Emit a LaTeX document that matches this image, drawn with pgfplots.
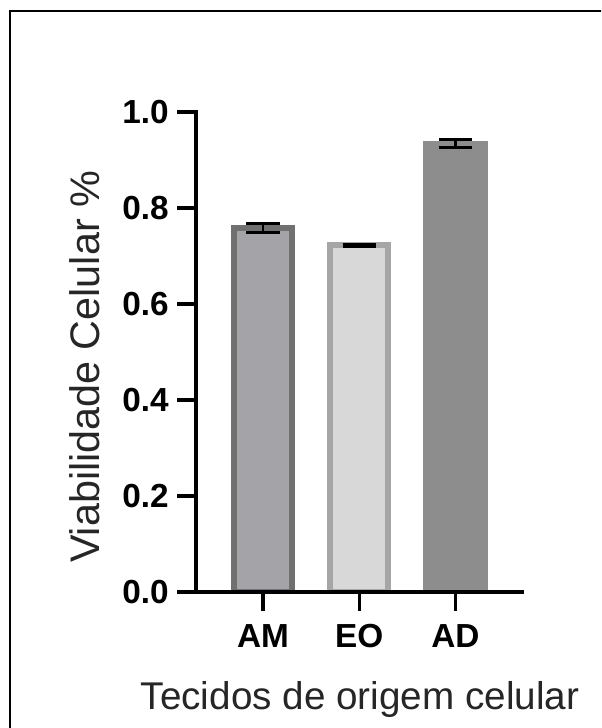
\documentclass[border=0pt]{standalone}
\usepackage{fontspec}
\setmainfont{Liberation Sans}
\usepackage{pgfplots}
\pgfplotsset{compat=1.18}
\definecolor{amfill}{RGB}{163,163,168}
\definecolor{amline}{RGB}{112,112,112}
\definecolor{eofill}{RGB}{216,216,216}
\definecolor{eoline}{RGB}{166,166,166}
\definecolor{adfill}{RGB}{141,141,141}
\begin{document}
\begin{tikzpicture}
\useasboundingbox (0,0) rectangle (450.75pt,546pt);
\clip (0,0) rectangle (450.75pt,546pt);
\draw[line width=1.6pt] (7.5pt,-10pt) -- (7.5pt,537.75pt) -- (470pt,537.75pt);
\begin{axis}[
  at={(147pt,102pt)}, anchor=south west,
  scale only axis, width=244.5pt, height=360pt,
  xmin=-0.696, xmax=2.691, ymin=0, ymax=1,
  axis lines*=left,
  axis line style={line width=2.6pt, line cap=rect},
  tick align=outside,
  major tick length=14pt,
  major tick style={line width=2.6pt, black},
  xtick={0,1,2}, xticklabels={AM,EO,AD},
  ytick={0,0.2,0.4,0.6,0.8,1.0},
  /pgf/number format/assume math mode=true,
  yticklabel style={/pgf/number format/fixed, /pgf/number format/fixed zerofill, /pgf/number format/precision=1, xshift=-3pt},
  ticklabel style={font=\fontsize{25pt}{25pt}\selectfont\bfseries},
  xticklabel style={text height=17.9pt, text depth=0pt, yshift=-6pt},
  ylabel={Viabilidade Celular \%},
  xlabel={Tecidos de origem celular},
  ylabel style={at={(axis description cs:-0.2945,0.469)}, anchor=base, font=\fontsize{31pt}{31pt}\selectfont, text=black!85},
  xlabel style={at={(axis description cs:0.503,-0.244)}, anchor=base, font=\fontsize{29pt}{29pt}\selectfont, text=black!85},
  ybar, bar width=0.603, bar shift=0pt,
  axis on top,
  error bars/y dir=both, error bars/y explicit,
  error bars/error bar style={line width=2.2pt, black},
  error bars/error mark options={black, line width=2.2pt, mark size=12.5pt, rotate=90},
]
\addplot[fill=amfill, draw=amline, line width=4.5pt] coordinates {(0,0.758) +- (0,0.009)};
\addplot[fill=eofill, draw=eoline, line width=4.5pt] coordinates {(1,0.722) +- (0,0.003)};
\addplot[fill=adfill, draw=adfill, line width=4.5pt] coordinates {(2,0.934) +- (0,0.008)};
\end{axis}
\end{tikzpicture}
\end{document}
